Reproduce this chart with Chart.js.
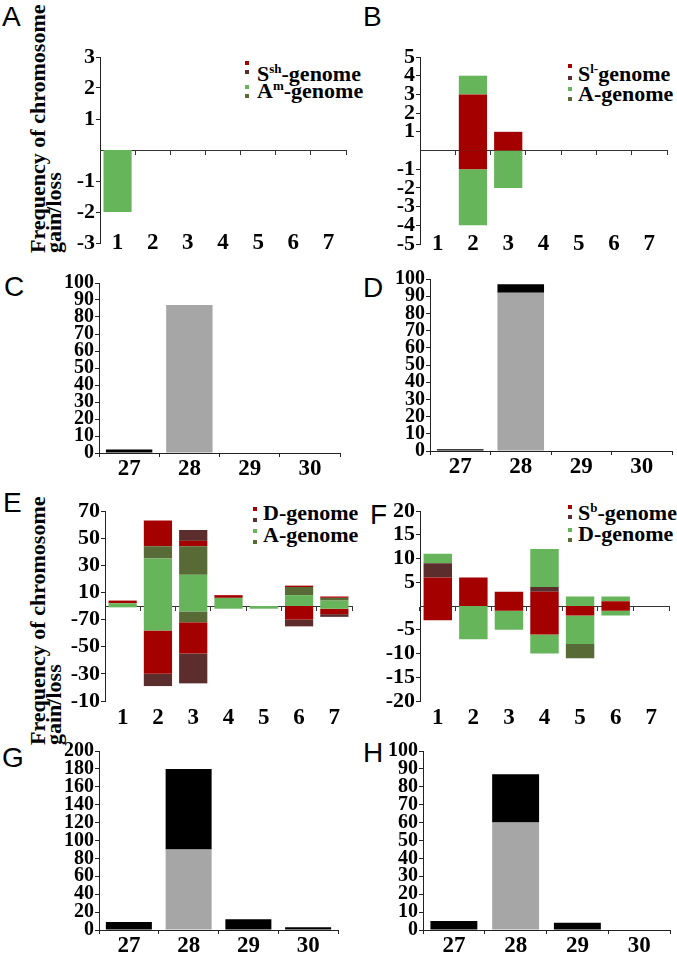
<!DOCTYPE html>
<html>
<head>
<meta charset="utf-8">
<script src="https://cdn.jsdelivr.net/npm/chart.js@4.4.1/dist/chart.umd.min.js"></script>
<style>
  body { margin: 0; background: #fff; width: 677px; height: 954px; position: relative; overflow: hidden; }
  canvas { position: absolute; }
  .letter { position: absolute; font-family: "Liberation Sans", Arial, sans-serif; font-size: 28px; line-height: 28px; color: #000; }
  .ytitle { position: absolute; font: bold 22px/16px "Liberation Serif", "Times New Roman", serif; white-space: nowrap;
            transform-origin: 0 0; transform: rotate(-90deg); color: #000; }
  .leg { position: absolute; font: bold 22px/22px "Liberation Serif", "Times New Roman", serif; white-space: nowrap; color: #000; }
  .leg sup { font-size: 13px; vertical-align: 0; position: relative; top: -8px; }
  .sq { position: absolute; width: 4px; height: 4px; }
</style>
</head>
<body>
<div class="letter" style="left:2px;top:3px">A</div>
<div class="letter" style="left:363px;top:3px">B</div>
<div class="letter" style="left:4px;top:273px">C</div>
<div class="letter" style="left:363px;top:274px">D</div>
<div class="letter" style="left:3px;top:489px">E</div>
<div class="letter" style="left:370px;top:501px">F</div>
<div class="letter" style="left:2px;top:744px">G</div>
<div class="letter" style="left:363px;top:739px">H</div>

<div class="ytitle" style="left:30px;top:253px">Frequency of chromosome<br>gain/loss</div>
<div class="ytitle" style="left:30px;top:745px">Frequency of chromosome<br>gain/loss</div>

<div class="leg" style="left:257px;top:63px">S<sup>sh</sup>-genome</div>
<div class="leg" style="left:257px;top:80px">A<sup>m</sup>-genome</div>
<div class="leg" style="left:578px;top:63px">S<sup>l-</sup>genome</div>
<div class="leg" style="left:578px;top:83px">A-genome</div>
<div class="leg" style="left:263px;top:502px">D-genome</div>
<div class="leg" style="left:263px;top:524px">A-genome</div>
<div class="leg" style="left:578px;top:502px">S<sup>b</sup>-genome</div>
<div class="leg" style="left:578px;top:523px">D-genome</div>

<script>
// categories
const chromCats = ['1', '2', '3', '4', '5', '6', '7'];
const countCats = ['27', '28', '29', '30'];

// colours
const RED = '#a50000', BROWN = '#5b2d2d', GREEN = '#66b55a', OLIVE = '#586a36';
const GRAY = '#a6a6a6', BLACK = '#000000';
const SERIF = '"Liberation Serif", "Times New Roman", serif';

// A: Ssh / Am
const aGreenLoss = [-2, 0, 0, 0, 0, 0, 0];

// B: Sl / A
const bRedGain = [0, 3, 1, 0, 0, 0, 0];
const bGreenGain = [0, 1, 0, 0, 0, 0, 0];
const bRedLoss = [0, -1, 0, 0, 0, 0, 0];
const bGreenLoss = [0, -3, -2, 0, 0, 0, 0];

// C, D
const cGray = [0, 87, 0, 0];
const cBlack = [2, 0, 0, 0];
const dGray = [0, 92, 0, 0];
const dBlack = [1, 5, 0, 0];

// E: D / A
const eGreenGain = [2, 35, 23, 6, 0, 8, 4];
const eOliveGain = [0, 9, 21, 0, 0, 6, 2];
const eRedGain = [2, 19, 4, 2, 0, 1, 1];
const eBrownGain = [0, 0, 8, 0, 0, 0, 0];
const eGreenLoss = [-1, -18, -4, -2, -2, 0, -2];
const eOliveLoss = [0, 0, -8, 0, 0, 0, 0];
const eRedLoss = [0, -32, -23, 0, 0, -10, -4];
const eBrownLoss = [0, -9, -22, 0, 0, -5, -2];

// F: Sb / D
const fRedGain = [6, 6, 3, 3, 0, 1, 0];
const fBrownGain = [3, 0, 0, 1, 0, 0, 0];
const fGreenGain = [2, 0, 0, 8, 2, 1, 0];
const fRedLoss = [-3, 0, -1, -6, -2, -1, 0];
const fGreenLoss = [0, -7, -4, -4, -6, -1, 0];
const fOliveLoss = [0, 0, 0, 0, -3, 0, 0];

// G, H
const gGray = [0, 90, 0, 0];
const gBlack = [9, 90, 12, 3];
const hGray = [0, 60, 0, 0];
const hBlack = [5, 27, 4, 0];

// y ticks
const aTicks = [-3, -2, -1, 1, 2, 3];
const bTicks = [-5, -4, -3, -2, -1, 1, 2, 3, 4, 5];
const pctTicks = [0, 10, 20, 30, 40, 50, 60, 70, 80, 90, 100];
const gTicks = [0, 20, 40, 60, 80, 100, 120, 140, 160, 180, 200];
const eTicks = [-70, -50, -30, -10, 10, 30, 50, 70];
const eTickLabels = ['-10', '-30', '-50', '-70', '10', '30', '50', '70'];
const fTicks = [-20, -15, -10, -5, 5, 10, 15, 20];

// legend squares [x, y, colour]
const legendSquares = [
  [245, 61, RED], [245, 70, BROWN], [245, 85, GREEN], [245, 94, OLIVE],
  [568, 64, RED], [568, 76, BROWN], [568, 87, GREEN], [568, 97, OLIVE],
  [253, 507, RED], [253, 518, BROWN], [253, 529, GREEN], [253, 540, OLIVE],
  [568, 505, RED], [568, 515, BROWN], [568, 528, GREEN], [568, 538, OLIVE]
];
legendSquares.forEach(([x, y, c]) => {
  const d = document.createElement('div');
  d.className = 'sq';
  d.style.left = x + 'px'; d.style.top = y + 'px'; d.style.background = c;
  document.body.appendChild(d);
});

function fix(size, horiz) {
  return s => {
    if (horiz) s.height = size; else s.width = size;
    s.paddingLeft = s.paddingRight = s.paddingTop = s.paddingBottom = 0;
  };
}

function panel(o) {
  const Wy = 70, padT = 15, padR = 8, Hx = 36;
  const cv = document.createElement('canvas');
  cv.width = Wy + (o.right - o.left) + padR;
  cv.height = padT + (o.bottom - o.top) + Hx;
  cv.style.left = (o.left - Wy) + 'px';
  cv.style.top = (o.top - padT) + 'px';
  document.body.appendChild(cv);

  const axisCol = '#222';
  const scales = {
    x: {
      type: 'category', stacked: true, offset: true,
      position: o.signed ? { y: o.min } : 'bottom',
      border: { display: !o.signed, color: axisCol, width: 1 },
      grid: o.signed ? { display: false, drawTicks: false }
                     : { display: true, drawOnChartArea: false, drawTicks: true, tickLength: 4, offset: true, color: axisCol },
      ticks: { color: '#000', font: { family: SERIF, weight: 'bold', size: 23 }, padding: o.xPad,
               autoSkip: false, maxRotation: 0 },
      afterFit: fix(Hx, true)
    },
    y: {
      type: 'linear', stacked: true, min: o.min, max: o.max,
      border: { display: true, color: axisCol, width: 1 },
      grid: { display: true, drawOnChartArea: false, drawTicks: true, tickLength: 4, color: axisCol },
      afterBuildTicks: s => { s.ticks = o.ticks.map(v => ({ value: v })); },
      ticks: { color: '#000', font: { family: SERIF, weight: 'bold', size: o.yFont }, padding: 1, autoSkip: false,
               callback: (v, i) => (o.tickLabels ? o.tickLabels[i] : String(o.ticks[i])) },
      afterFit: fix(Wy, false)
    }
  };
  if (o.signed) {
    scales.x.axis = 'x';
    scales.x0 = {
      type: 'category', axis: 'x', position: { y: 0 }, offset: true,
      border: { display: true, color: '#333', width: 1 },
      grid: { display: true, drawOnChartArea: false, drawTicks: true, tickLength: 4, offset: true, color: '#333' },
      ticks: { display: false },
      afterFit: fix(0, true)
    };
  }
  new Chart(cv, {
    type: 'bar',
    data: {
      labels: o.cats,
      datasets: o.series.map(([data, col]) => ({
        data: data, backgroundColor: col, borderWidth: 0,
        categoryPercentage: o.catPct, barPercentage: 1
      }))
    },
    options: {
      responsive: false, animation: false,
      layout: { padding: { left: 0, top: padT, right: padR, bottom: o.signed ? Hx : 0 }, autoPadding: false },
      plugins: { legend: { display: false }, tooltip: { enabled: false } },
      scales: scales
    }
  });
}

panel({ left: 100, right: 346, top: 57, bottom: 243, min: -3, max: 3, ticks: aTicks, yFont: 22,
        cats: chromCats, signed: true, xPad: -14, catPct: 0.8,
        series: [[aGreenLoss, GREEN]] });

panel({ left: 420, right: 667, top: 57, bottom: 244, min: -5, max: 5, ticks: bTicks, yFont: 22,
        cats: chromCats, signed: true, xPad: -14, catPct: 0.8,
        series: [[bRedGain, RED], [bRedLoss, RED], [bGreenGain, GREEN], [bGreenLoss, GREEN]] });

panel({ left: 99, right: 340, top: 283, bottom: 453, min: 0, max: 100, ticks: pctTicks, yFont: 20,
        cats: countCats, signed: false, xPad: -2, catPct: 0.77,
        series: [[cGray, GRAY], [cBlack, BLACK]] });

panel({ left: 430, right: 672, top: 279, bottom: 451, min: 0, max: 100, ticks: pctTicks, yFont: 20,
        cats: countCats, signed: false, xPad: -2, catPct: 0.77,
        series: [[dGray, GRAY], [dBlack, BLACK]] });

panel({ left: 105, right: 352, top: 511, bottom: 701, min: -70, max: 70, ticks: eTicks, tickLabels: eTickLabels, yFont: 22,
        cats: chromCats, signed: true, xPad: 3, catPct: 0.8,
        series: [[eGreenGain, GREEN], [eGreenLoss, GREEN], [eOliveGain, OLIVE], [eOliveLoss, OLIVE],
                 [eRedGain, RED], [eRedLoss, RED], [eBrownGain, BROWN], [eBrownLoss, BROWN]] });

panel({ left: 420, right: 669, top: 511, bottom: 701, min: -20, max: 20, ticks: fTicks, yFont: 22,
        cats: chromCats, signed: true, xPad: 3, catPct: 0.8,
        series: [[fRedGain, RED], [fRedLoss, RED], [fBrownGain, BROWN], [fGreenGain, GREEN], [fGreenLoss, GREEN],
                 [fOliveLoss, OLIVE]] });

panel({ left: 99, right: 338, top: 751, bottom: 930, min: 0, max: 200, ticks: gTicks, yFont: 20,
        cats: countCats, signed: false, xPad: -2, catPct: 0.77,
        series: [[gGray, GRAY], [gBlack, BLACK]] });

panel({ left: 423, right: 670, top: 751, bottom: 930, min: 0, max: 100, ticks: pctTicks, yFont: 20,
        cats: countCats, signed: false, xPad: -2, catPct: 0.76,
        series: [[hGray, GRAY], [hBlack, BLACK]] });
</script>
</body>
</html>
